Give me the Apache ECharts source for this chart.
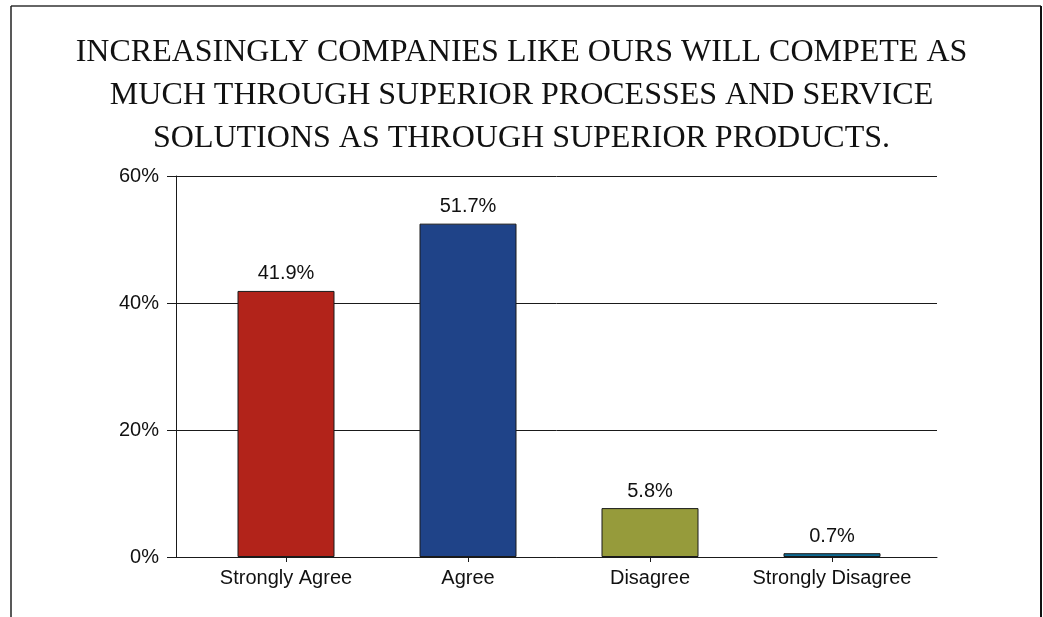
<!DOCTYPE html>
<html>
<head>
<meta charset="utf-8">
<title>Compete through processes and services</title>
<script src="https://cdn.jsdelivr.net/npm/echarts@6/dist/echarts.min.js"></script>
<style>
  html, body { margin: 0; padding: 0; background: #fff; }
  #chart { width: 1043px; height: 617px; }
</style>
</head>
<body>
<div id="chart"></div>
<script>
const categories = ["Strongly Agree", "Agree", "Disagree", "Strongly Disagree"];
// bar heights as drawn in the picture (percent)
const barValues = [41.9, 52.5, 7.7, 0.6];
// the figures printed above the bars
const barLabels = ["41.9%", "51.7%", "5.8%", "0.7%"];
const barColors = ["#b2231a", "#1f4388", "#969b3b", "#0d6c95"];
const yTicks = [0, 20, 40, 60];

const titleText = [
  "INCREASINGLY COMPANIES LIKE OURS WILL COMPETE AS",
  "MUCH THROUGH SUPERIOR PROCESSES AND SERVICE",
  "SOLUTIONS AS THROUGH SUPERIOR PRODUCTS.",
].join("\n");

const sansFont = "'Liberation Sans', Arial, sans-serif";
const ink = "#1a1a1a";

const chart = echarts.init(document.getElementById("chart"));

chart.setOption({
  animation: false,
  backgroundColor: "#fff",
  title: {
    text: titleText,
    left: "center",
    top: 31,
    padding: 0,
    textStyle: {
      fontFamily: "'Liberation Serif', 'Times New Roman', serif",
      fontWeight: "normal",
      fontSize: 32,
      lineHeight: 43,
      color: "#111",
    },
  },
  graphic: [
    { type: "line", shape: { x1: 11, y1: 6, x2: 1041, y2: 6 }, style: { stroke: "#333", lineWidth: 1.5 } },
    { type: "line", shape: { x1: 11, y1: 6, x2: 11, y2: 617 }, style: { stroke: "#222", lineWidth: 1.5 } },
    { type: "line", shape: { x1: 1041, y1: 6, x2: 1041, y2: 617 }, style: { stroke: "#111", lineWidth: 2 } },
  ],
  grid: [
    // bars and category labels
    { left: 195, width: 728, top: 176, height: 381 },
    // value axis, grid lines and baseline
    { left: 176, width: 761, top: 176, height: 381 },
  ],
  xAxis: [
    {
      type: "category",
      gridIndex: 0,
      data: categories,
      axisLine: { show: false },
      axisTick: { show: true, alignWithLabel: true, interval: 0, length: 5, lineStyle: { color: ink } },
      axisLabel: { color: "#111", fontFamily: sansFont, fontSize: 20, margin: 11, interval: 0 },
    },
    {
      type: "value",
      gridIndex: 1,
      min: 0,
      max: 1,
      axisLine: { show: true, lineStyle: { color: ink, width: 1 } },
      axisTick: { show: false },
      axisLabel: { show: false },
      splitLine: { show: false },
    },
  ],
  yAxis: [
    {
      type: "value",
      gridIndex: 0,
      min: 0,
      max: 60,
      show: false,
    },
    {
      type: "value",
      gridIndex: 1,
      min: yTicks[0],
      max: yTicks[yTicks.length - 1],
      interval: 20,
      axisLine: { show: true, lineStyle: { color: ink, width: 1 } },
      axisTick: { show: true, length: 9, lineStyle: { color: ink } },
      axisLabel: {
        color: "#111",
        fontFamily: sansFont,
        fontSize: 20,
        margin: 17,
        formatter: "{value}%",
      },
      splitLine: { show: true, lineStyle: { color: ink, width: 1 } },
    },
  ],
  series: [
    {
      type: "bar",
      xAxisIndex: 0,
      yAxisIndex: 0,
      barWidth: 97,
      data: barValues.map((value, index) => ({
        value,
        itemStyle: { color: barColors[index] },
      })),
      itemStyle: { borderColor: ink, borderWidth: 1 },
      label: {
        show: true,
        position: "top",
        distance: 7,
        color: "#111",
        fontFamily: sansFont,
        fontSize: 20,
        formatter: params => barLabels[params.dataIndex],
      },
      z: 3,
    },
  ],
});
</script>
</body>
</html>
